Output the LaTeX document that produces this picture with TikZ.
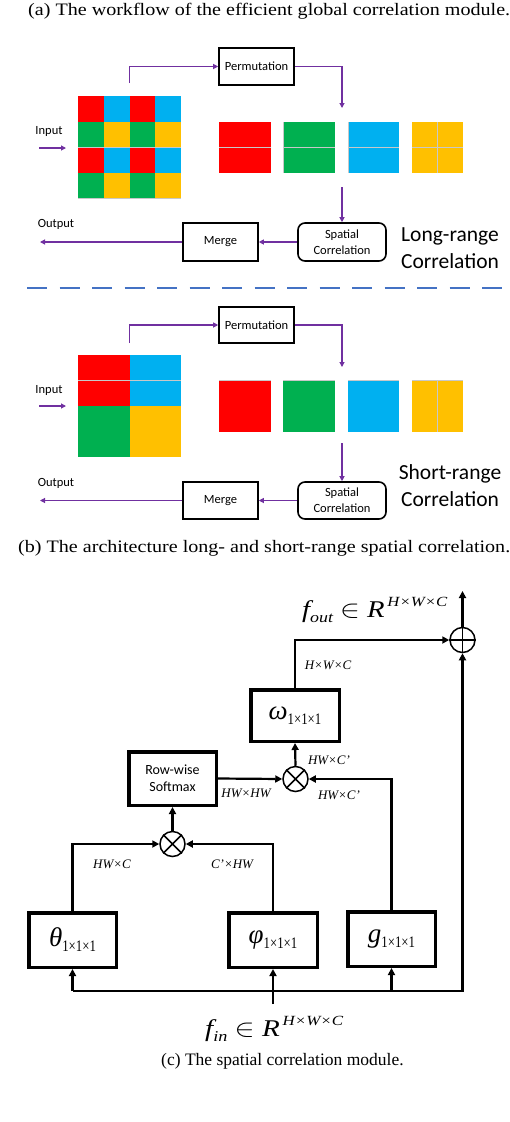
\documentclass[tikz,border=0pt]{standalone}
\usepackage{fontspec}
\usepackage{graphicx}
\setmainfont{Liberation Serif}
\newfontfamily\calib{Carlito}
\usetikzlibrary{arrows.meta}
\definecolor{cred}{HTML}{FF0000}
\definecolor{cgreen}{HTML}{00B050}
\definecolor{cblue}{HTML}{00B0F0}
\definecolor{cyellow}{HTML}{FFC000}
\definecolor{purp}{HTML}{7030A0}
\definecolor{dashblue}{HTML}{4472C4}
\definecolor{seam}{HTML}{C8C8C8}
\newcommand{\symb}[1]{{\fontsize{27}{27}\selectfont\itshape #1}\raisebox{-5pt}{\scalebox{0.8}[1]{\fontsize{16}{16}\selectfont 1×1×1}}}
\begin{document}
\begin{tikzpicture}[x=1pt,y=-1pt,
  pbox/.style={draw, line width=1.6pt, inner sep=0, font=\calib\fontsize{12.5}{16}\selectfont},
  rbox/.style={pbox, rounded corners=7pt, align=center},
  parr/.style={draw=purp, line width=1.1pt, -{Triangle[length=5pt,width=5pt]}},
  slab/.style={inner sep=0, font=\calib\fontsize{12.5}{15}\selectfont},
  biglab/.style={inner sep=0, align=center, font=\calib\fontsize{21.5}{27}\selectfont},
  kbox/.style={draw, line width=3.5pt, inner sep=0},
  karr/.style={line width=2.2pt, -{Triangle[length=7pt,width=7pt]}},
  kcirc/.style={draw, circle, line width=1.5pt, minimum size=25pt, inner sep=0},
  dimlab/.style={inner sep=0, font=\fontsize{13}{13}\selectfont\itshape},
  captext/.style={inner sep=0, font=\fontsize{17.5}{20}\selectfont},
  seamline/.style={draw=seam, line width=0.8pt}
]
\useasboundingbox (0,0) rectangle (510,1122);

% ---------------- caption (a)
\node[captext, anchor=base west] (capa) at (28,15) {\resizebox{482pt}{\height}{(a) The workflow of the efficient global correlation module.}};

% ---------------- panel (a)
\foreach \r/\ca/\cb in {0/cred/cblue,1/cgreen/cyellow,2/cred/cblue,3/cgreen/cyellow}{
  \foreach \c in {0,2}{
    \fill[\ca] (78+\c*25.75,96+\r*25.5) rectangle ++(25.75,25.5);
    \fill[\cb] (78+\c*25.75+25.75,96+\r*25.5) rectangle ++(25.75,25.5);
  }
}
\draw[seamline] (78,147) -- (181,147);
\draw[seamline] (78,198) -- (181,198);
\coordinate (gtop1) at (129.5,83);
\fill[cred] (219,122) rectangle (271,173);
\fill[cgreen] (283,122) rectangle (335,173);
\fill[cblue] (348,122) rectangle (399,173);
\fill[cyellow] (412,122) rectangle (463,173);
\foreach \xa/\xb in {219/271,283/335,348/399,412/463}{\draw[seamline] (\xa,147.5) -- (\xb,147.5);}
\draw[seamline] (437.5,122) -- (437.5,173);
\draw[seamline] (283,122) -- (283,173);
\draw[seamline] (348,122) -- (348,173);

\node[pbox, minimum width=75pt, minimum height=37pt] (perm1) at (256.5,66.5) {Permutation};
\coordinate (tip1) at (342,108);
\coordinate (from1) at (342,187);
\node[rbox, minimum width=88pt, minimum height=38pt] (sc1) at (342,242) {Spatial\\Correlation};
\node[pbox, minimum width=75pt, minimum height=38pt] (merge1) at (220.5,242) {Merge};
\coordinate (out1) at (40,242);
\node[slab] (outlab1) at (56,224) {Output};
\node[slab] (inlab1) at (49,131) {Input};
\coordinate (in1a) at (39,148);
\coordinate (in1b) at (66,148);
\node[biglab] (lr) at (450,248.5) {Long-range\\Correlation};

\draw[parr] (gtop1) |- (perm1.west);
\draw[parr] (perm1.east) -| (tip1);
\draw[parr] (from1) -- (sc1.north);
\draw[parr] (sc1.west) -- (merge1.east);
\draw[parr] (merge1.west) -- (out1);
\draw[parr] (in1a) -- (in1b);

\coordinate (dsa) at (27,288);
\coordinate (dsb) at (503,288);
\draw[draw=dashblue, line width=2.7pt, dash pattern=on 20pt off 12.5pt] (dsa) -- (dsb);

% ---------------- panel (b)
\fill[cred] (78,355) rectangle (129.5,406);
\fill[cblue] (129.5,355) rectangle (181,406);
\fill[cgreen] (78,406) rectangle (129.5,457);
\fill[cyellow] (129.5,406) rectangle (181,457);
\draw[seamline] (78,380.5) -- (181,380.5);
\coordinate (gtop2) at (129.5,343);
\fill[cred] (219,380) rectangle (271,432);
\fill[cgreen] (283,380) rectangle (335,432);
\fill[cblue] (348,380) rectangle (399,432);
\fill[cyellow] (412,380) rectangle (463,432);
\foreach \xa/\xb in {219/271,283/335,348/399,412/463}{\draw[seamline] (\xa,380.5) -- (\xb,380.5);}
\draw[seamline] (437.5,380) -- (437.5,432);

\node[pbox, minimum width=75pt, minimum height=36pt] (perm2) at (256.5,325) {Permutation};
\coordinate (tip2) at (342,367);
\coordinate (from2) at (342,443);
\node[rbox, minimum width=88pt, minimum height=37pt] (sc2) at (342,500.5) {Spatial\\Correlation};
\node[pbox, minimum width=75pt, minimum height=37pt] (merge2) at (220.5,500.5) {Merge};
\coordinate (out2) at (40,500.5);
\node[slab] (outlab2) at (56,483) {Output};
\node[slab] (inlab2) at (49,390) {Input};
\coordinate (in2a) at (39,406);
\coordinate (in2b) at (66,406);
\node[biglab] (sr) at (450,486) {Short-range\\Correlation};

\draw[parr] (gtop2) |- (perm2.west);
\draw[parr] (perm2.east) -| (tip2);
\draw[parr] (from2) -- (sc2.north);
\draw[parr] (sc2.west) -- (merge2.east);
\draw[parr] (merge2.west) -- (out2);
\draw[parr] (in2a) -- (in2b);

% ---------------- caption (b)
\node[captext, anchor=base west] (capb) at (18,552) {\resizebox{492pt}{\height}{(b) The architecture long- and short-range spatial correlation.}};

% ---------------- panel (c)
\node[kbox, minimum width=88.5pt, minimum height=51.5pt] (omega) at (295,715.5) {\symb{ω}};
\node[kbox, minimum width=87.5pt, minimum height=53.5pt, align=center, font=\calib\fontsize{14}{17}\selectfont] (softmax) at (172.5,778.5) {Row-wise\\Softmax};
\node[kbox, minimum width=87.5pt, minimum height=54.5pt] (theta) at (72.5,940) {\symb{θ}};
\node[kbox, minimum width=88.5pt, minimum height=54.5pt] (phi) at (273,940) {\symb{φ}};
\node[kbox, minimum width=87.5pt, minimum height=54.5pt] (g) at (391.5,939) {\symb{g}};

\node[kcirc] (oplus) at (462.5,640) {};
\draw[line width=1.5pt] (oplus.north) -- (oplus.south) (oplus.west) -- (oplus.east);
\node[kcirc] (otimes1) at (295.5,779) {};
\draw[line width=1.5pt] (otimes1.north west) -- (otimes1.south east) (otimes1.north east) -- (otimes1.south west);
\node[kcirc] (otimes2) at (172.5,844) {};
\draw[line width=1.5pt] (otimes2.north west) -- (otimes2.south east) (otimes2.north east) -- (otimes2.south west);

\coordinate (top) at (462.5,591);
\coordinate (busL) at (72.5,991);
\coordinate (busR) at (462.5,991);
\coordinate (finTop) at (273,1004);

\draw[karr] (omega.north) |- (oplus.west);
\draw[karr] (oplus.north) -- (top);
\draw[karr] (busL) -- (busR) -- (oplus.south);
\draw[karr] (otimes1.north) -- (omega.south);
\draw[karr] (softmax.east) -- (otimes1.west);
\draw[karr] (g.north) |- (otimes1.east);
\draw[karr] (otimes2.north) -- (softmax.south);
\draw[karr] (theta.north) |- (otimes2.west);
\draw[karr] (phi.north) |- (otimes2.east);
\draw[karr] (busL) -- (theta.south);
\draw[karr] (finTop) -- (phi.south);
\draw[karr] (g.south |- busL) -- (g.south);

\node[dimlab] (l1) at (328,665) {H×W×C};
\node[dimlab] (l2) at (329,760) {HW×C'};
\node[dimlab] (l3) at (246,793) {HW×HW};
\node[dimlab] (l4) at (339,795) {HW×C'};
\node[dimlab] (l5) at (112,864) {HW×C};
\node[dimlab] (l6) at (232,864) {C'×HW};

\node[anchor=base west, inner sep=0] (fout) at (302,617) {\resizebox{145pt}{\height}{\fontsize{24}{24}\selectfont\itshape f\raisebox{-5pt}{\fontsize{15}{15}\selectfont out}\ \upshape$\in$\ \itshape R\raisebox{11pt}{\fontsize{14}{14}\selectfont\itshape\,H×W×C}}};
\node[anchor=base west, inner sep=0] (fin) at (205,1036) {\resizebox{138pt}{\height}{\fontsize{24}{24}\selectfont\itshape f\raisebox{-5pt}{\fontsize{15}{15}\selectfont in}\ \upshape$\in$\ \itshape R\raisebox{11pt}{\fontsize{14}{14}\selectfont\itshape\,H×W×C}}};

% ---------------- caption (c)
\node[captext, anchor=base west] (capc) at (161,1065) {(c) The spatial correlation module.};
\end{tikzpicture}
\end{document}
